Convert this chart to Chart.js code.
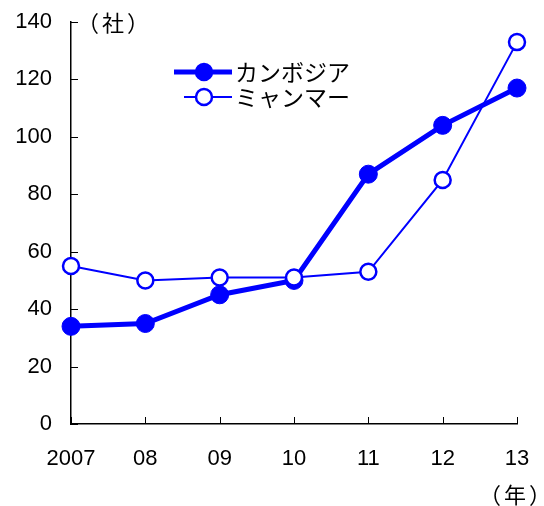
<!DOCTYPE html>
<html>
<head>
<meta charset="utf-8">
<script src="https://cdn.jsdelivr.net/npm/chart.js@4/dist/chart.umd.min.js"></script>
<style>
html,body{margin:0;padding:0;background:#fff;}
#wrap{width:544px;height:506px;}
</style>
</head>
<body>
<div id="wrap"><canvas id="c" width="544" height="506"></canvas></div>
<script>
const categories = ['2007', '08', '09', '10', '11', '12', '13'];
const cambodia = [34, 35, 45, 50, 87, 104, 117];
const myanmar = [55, 50, 51, 51, 53, 85, 133];
const yTickValues = [0, 20, 40, 60, 80, 100, 120, 140];
const seriesNames = ['カンボジア', 'ミャンマー'];
const yUnit = '（社）';
const xUnit = '（年）';

const BLUE = '#0000ff';
const NUM_FONT = '"Liberation Sans", Arial, sans-serif';
const JP_FONT = '"Noto Sans CJK JP", sans-serif';

const extras = {
  id: 'extras',
  afterDraw(chart) {
    const ctx = chart.ctx;
    const xs = chart.scales.x, ys = chart.scales.y;
    const area = chart.chartArea;
    ctx.save();
    // inward tick marks
    ctx.strokeStyle = '#000';
    ctx.lineWidth = 1;
    yTickValues.forEach(v => {
      const y = Math.round(ys.getPixelForValue(v)) + 0.5;
      ctx.beginPath(); ctx.moveTo(area.left, y); ctx.lineTo(area.left + 7, y); ctx.stroke();
    });
    categories.forEach((c, i) => {
      const x = Math.round(xs.getPixelForValue(i)) + 0.5;
      ctx.beginPath(); ctx.moveTo(x, area.bottom); ctx.lineTo(x, area.bottom - 7); ctx.stroke();
    });
    // unit labels
    ctx.fillStyle = '#000';
    ctx.font = '22px ' + JP_FONT;
    ctx.textBaseline = 'middle';
    ctx.textAlign = 'left';
    ctx.letterSpacing = '3px';
    ctx.fillText(yUnit, 77, 23);
    ctx.fillText(xUnit, 479, 495);
    ctx.letterSpacing = '0px';
    // legend
    const rows = [
      {y: 72, lw: 5, fill: BLUE, r: 8, x0: 174, name: seriesNames[0]},
      {y: 97, lw: 2, fill: '#fff', r: 8, x0: 184, name: seriesNames[1]}
    ];
    rows.forEach(rw => {
      ctx.strokeStyle = BLUE;
      ctx.lineWidth = rw.lw;
      ctx.beginPath(); ctx.moveTo(rw.x0, rw.y); ctx.lineTo(232, rw.y); ctx.stroke();
      ctx.beginPath(); ctx.arc(204, rw.y, rw.r, 0, Math.PI * 2);
      ctx.fillStyle = rw.fill; ctx.fill();
      ctx.lineWidth = 2.5; ctx.strokeStyle = BLUE; ctx.stroke();
      ctx.fillStyle = '#000';
      ctx.font = '23px ' + JP_FONT;
      ctx.fillText(rw.name, 235, rw.y);
    });
    ctx.restore();
  }
};

function zeroPad(s) { s.paddingTop = 0; s.paddingBottom = 0; s.paddingLeft = 0; s.paddingRight = 0; }

new Chart(document.getElementById('c'), {
  type: 'line',
  data: {
    labels: categories,
    datasets: [
      {
        label: seriesNames[0], data: cambodia, order: 1,
        borderColor: BLUE, backgroundColor: BLUE, borderWidth: 5,
        pointRadius: 9, pointBackgroundColor: BLUE, pointBorderColor: BLUE, pointBorderWidth: 1,
        tension: 0
      },
      {
        label: seriesNames[1], data: myanmar, order: 0,
        borderColor: BLUE, backgroundColor: '#fff', borderWidth: 2,
        pointRadius: 8, pointBackgroundColor: '#fff', pointBorderColor: BLUE, pointBorderWidth: 2.5,
        tension: 0
      }
    ]
  },
  options: {
    responsive: false,
    devicePixelRatio: 1,
    animation: false,
    layout: {padding: {top: 22, right: 27, left: 0, bottom: 0}},
    plugins: {legend: {display: false}, tooltip: {enabled: false}},
    scales: {
      x: {
        type: 'category', offset: false,
        grid: {display: true, drawOnChartArea: false, drawTicks: false},
        border: {display: true, color: '#000', width: 1.5},
        ticks: {color: '#000', font: {family: NUM_FONT, size: 22}, padding: 22, maxRotation: 0, autoSkip: false},
        afterFit(s) { s.height = 82; zeroPad(s); }
      },
      y: {
        min: 0, max: 140,
        afterBuildTicks(s) { s.ticks = yTickValues.map(v => ({value: v})); },
        grid: {display: true, drawOnChartArea: false, drawTicks: false},
        border: {display: true, color: '#000', width: 1.5},
        ticks: {color: '#000', font: {family: NUM_FONT, size: 22}, padding: 19},
        afterFit(s) { s.width = 71; zeroPad(s); }
      }
    }
  },
  plugins: [extras]
});
</script>
</body>
</html>
